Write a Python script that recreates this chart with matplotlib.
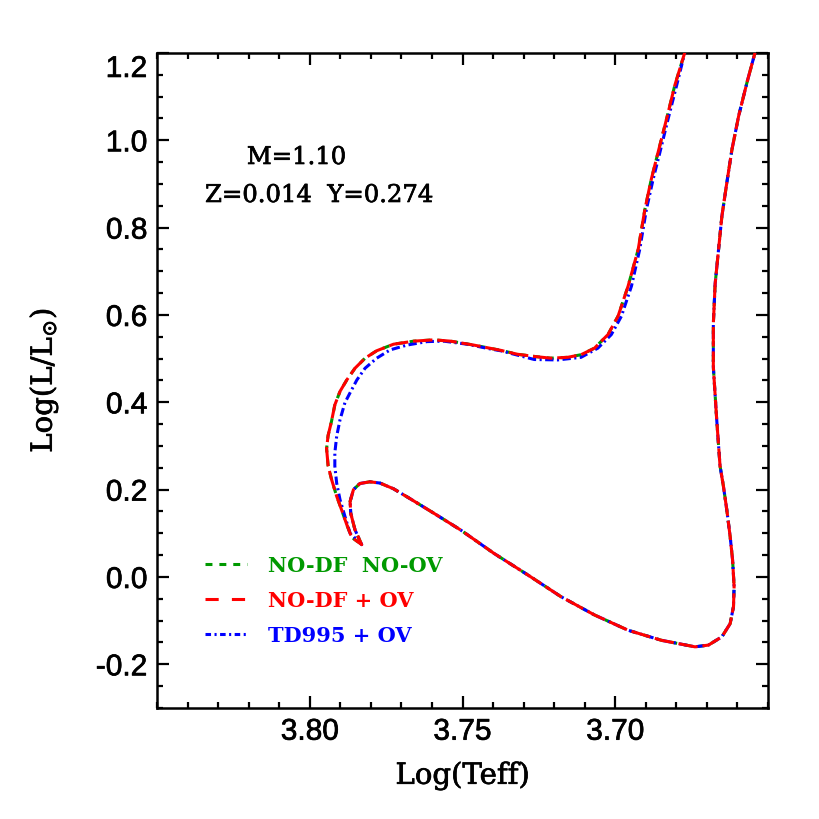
import numpy as np
import matplotlib
matplotlib.use('Agg')
import matplotlib.pyplot as plt
import matplotlib.patheffects as pe
from matplotlib.lines import Line2D
from matplotlib.ticker import FixedLocator, MultipleLocator
from matplotlib.transforms import ScaledTranslation

plt.rcParams['lines.scale_dashes'] = False
plt.rcParams['mathtext.fontset'] = 'dejavuserif'

# pre-main-sequence part (Hayashi + Henyey track), same for all three models
pms_logt = [3.6530, 3.6542, 3.6569, 3.6596, 3.6618, 3.6635, 3.6651, 3.6662, 3.6673,
            3.6679, 3.6679, 3.6668, 3.6657, 3.6646, 3.6635, 3.6624, 3.6616, 3.6611,
            3.6613, 3.6624, 3.6651, 3.6695, 3.6739, 3.6849, 3.6958, 3.7068, 3.7178,
            3.7287, 3.7397, 3.7507, 3.7594, 3.7671, 3.7726, 3.7770, 3.7803, 3.7836,
            3.7857, 3.7868, 3.7866, 3.7852, 3.7830]
pms_logl = [1.230, 1.202, 1.132, 1.056, 0.979, 0.902, 0.826, 0.749, 0.672,
            0.580, 0.481, 0.361, 0.254, 0.208, 0.154, 0.093, 0.039, -0.022,
            -0.068, -0.107, -0.137, -0.156, -0.160, -0.145, -0.122, -0.087, -0.045,
            0.005, 0.054, 0.108, 0.146, 0.179, 0.202, 0.215, 0.218, 0.214,
            0.200, 0.173, 0.146, 0.108, 0.074]

# main sequence -> subgiant -> RGB, no diffusion (with / without overshooting)
ms_logt = [3.7863, 3.7879, 3.7896, 3.7912, 3.7929, 3.7940, 3.7945, 3.7940, 3.7929,
           3.7918, 3.7901, 3.7879, 3.7852, 3.7819, 3.7781, 3.7726, 3.7660, 3.7594,
           3.7539, 3.7463, 3.7375, 3.7320, 3.7265, 3.7211, 3.7156, 3.7112, 3.7068,
           3.7024, 3.6991, 3.6958, 3.6925, 3.6903, 3.6882, 3.6860, 3.6832, 3.6805,
           3.6772, 3.6760]
ms_logl = [0.091, 0.120, 0.154, 0.185, 0.224, 0.255, 0.294, 0.324, 0.356,
           0.394, 0.425, 0.451, 0.478, 0.501, 0.518, 0.533, 0.540, 0.543,
           0.540, 0.531, 0.519, 0.510, 0.505, 0.501, 0.503, 0.509, 0.524,
           0.555, 0.597, 0.666, 0.750, 0.842, 0.911, 0.972, 1.049, 1.126,
           1.202, 1.230]

# main sequence -> RGB, TD995 diffusion
td_logt = [3.7868, 3.7885, 3.7901, 3.7912, 3.7918, 3.7918, 3.7912, 3.7901, 3.7885,
           3.7868, 3.7846, 3.7819, 3.7781, 3.7737, 3.7682, 3.7616, 3.7561, 3.7485,
           3.7408, 3.7375, 3.7265, 3.7188, 3.7112, 3.7057, 3.7013, 3.6980, 3.6947,
           3.6920, 3.6898, 3.6876, 3.6854, 3.6827, 3.6799, 3.6772, 3.6760]
td_logl = [0.100, 0.139, 0.177, 0.215, 0.254, 0.284, 0.322, 0.360, 0.399,
           0.422, 0.451, 0.478, 0.501, 0.520, 0.531, 0.539, 0.540, 0.533,
           0.522, 0.518, 0.498, 0.497, 0.503, 0.524, 0.555, 0.597, 0.666,
           0.750, 0.842, 0.911, 0.972, 1.049, 1.126, 1.202, 1.230]

labels = ['NO-DF  NO-OV', 'NO-DF + OV', 'TD995 + OV']
colors = ['#009900', '#ff0000', '#0000ff']
xticks = [3.80, 3.75, 3.70]
yticks = [-0.2, 0.0, 0.2, 0.4, 0.6, 0.8, 1.0, 1.2]

t_nodf = np.array(pms_logt + ms_logt)
l_nodf = np.array(pms_logl + ms_logl)
t_td = np.array(pms_logt + td_logt)
l_td = np.array(pms_logl + td_logl)

fig = plt.figure(figsize=(8.2, 8.2), dpi=100)
ax = fig.add_axes([0.1915, 0.1354, 0.7451, 0.7988])

lw = 2.2
ax.plot(t_nodf, l_nodf, color=colors[0], lw=lw, dashes=(5, 5), zorder=2)
ax.plot(t_td, l_td, color=colors[2], lw=lw, dashes=(6, 2.5, 1.5, 2.5), zorder=3)
ax.plot(t_nodf, l_nodf, color=colors[1], lw=lw, dashes=(14, 3.5), zorder=4)

ax.set_xlim(3.85, 3.65)
ax.set_ylim(-0.3, 1.2)

# slightly thicker strokes, like the IDL fonts
thick = [pe.withStroke(linewidth=0.5, foreground='black')]

ax.xaxis.set_major_locator(FixedLocator(xticks))
ax.xaxis.set_minor_locator(MultipleLocator(0.01))
ax.yaxis.set_major_locator(FixedLocator(yticks))
ax.yaxis.set_minor_locator(MultipleLocator(0.05))
ax.set_xticklabels(['%.2f' % v for v in xticks])
ax.set_yticklabels(['%.1f' % v for v in yticks])

ax.tick_params(which='both', direction='in', top=True, right=True, width=1.6)
ax.tick_params(which='major', length=8.5, labelsize=21.5, pad=7)
ax.tick_params(which='minor', length=4.5)
for lab in ax.get_xticklabels() + ax.get_yticklabels():
    lab.set_family('Liberation Sans')
    lab.set_path_effects(thick)
top_lab = ax.get_yticklabels()[-1]
top_lab.set_transform(top_lab.get_transform() + ScaledTranslation(0, -0.13, fig.dpi_scale_trans))
for sp in ax.spines.values():
    sp.set_linewidth(1.8)

ax.set_xlabel('Log(Teff)', family='DejaVu Serif', fontsize=21, labelpad=11,
              path_effects=thick)
ax.set_ylabel(r'Log(L/L$_{\odot}$)', family='DejaVu Serif', fontsize=21, labelpad=26,
              path_effects=thick)

ax.text(0.147, 0.8305, 'M=1.10', transform=ax.transAxes, family='DejaVu Serif',
        fontsize=17.5, ha='left', va='baseline', path_effects=thick)
ax.text(0.0786, 0.7725, 'Z=0.014  Y=0.274', transform=ax.transAxes, family='DejaVu Serif',
        fontsize=17.5, ha='left', va='baseline', path_effects=thick)

handles = [Line2D([], [], color=colors[0], lw=lw, dashes=(5, 5)),
           Line2D([], [], color=colors[1], lw=lw, dashes=(9.5, 9.5)),
           Line2D([], [], color=colors[2], lw=lw, dashes=(4, 2.5, 1.5, 2.5))]
leg = ax.legend(handles, labels, loc='upper left', bbox_to_anchor=(0.0786, 0.2335),
                frameon=False, borderpad=0, borderaxespad=0, handlelength=2.0,
                handletextpad=1.0, labelspacing=0.72,
                prop={'family': 'DejaVu Serif', 'weight': 'bold', 'size': 15})
for txt, c in zip(leg.get_texts(), colors):
    txt.set_color(c)

fig.savefig('out.png', dpi=100)
